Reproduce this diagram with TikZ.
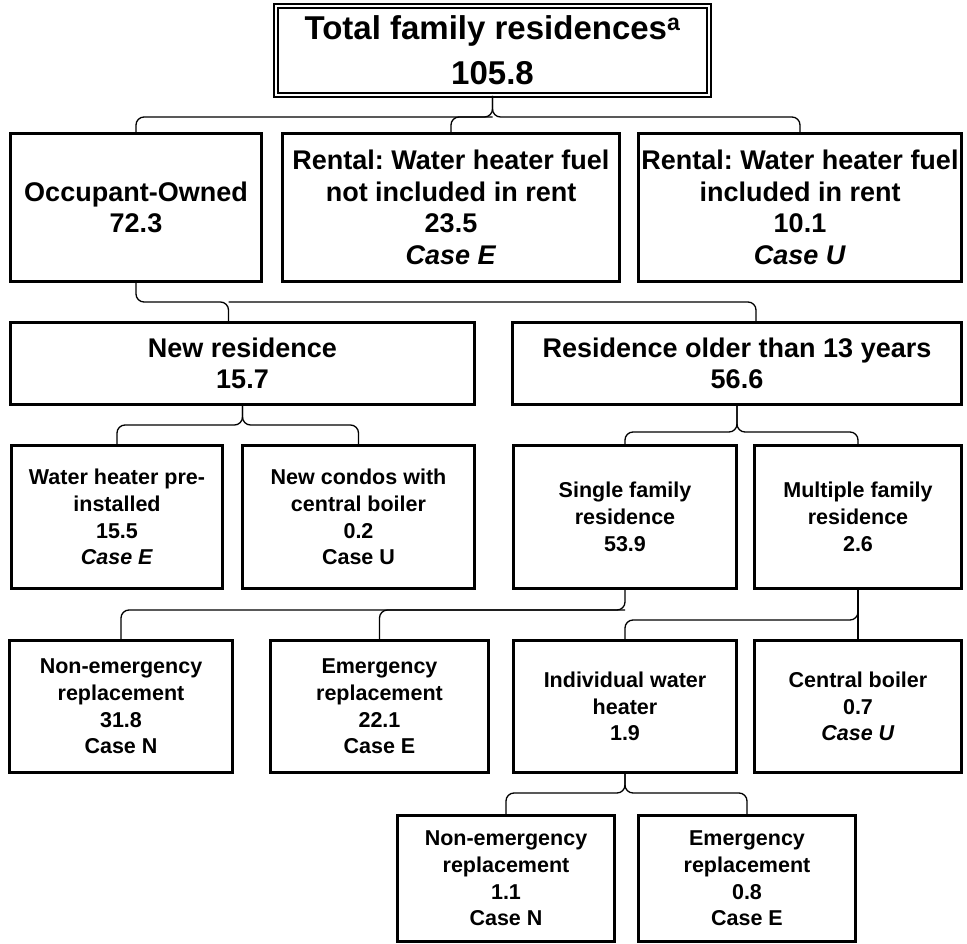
\documentclass[tikz,border=0pt]{standalone}
\usepackage{fontspec}
\setmainfont{Liberation Sans}
\usepackage{tikz}
\frenchspacing

\begin{document}
\begin{tikzpicture}[
        x=1pt,y=-1pt,
        box/.style={draw,line width=2.6pt,inner sep=0pt,align=center},
        total/.style={box,double,line width=1.8pt,double distance=2.4pt,
            font=\fontsize{33}{45}\selectfont\bfseries},
        big/.style={box,font=\fontsize{27}{31.5}\selectfont\bfseries},
        small/.style={box,font=\fontsize{21.5}{26.7}\selectfont\bfseries},
        link/.style={line width=1.3pt,rounded corners=8pt}
    ]
        \useasboundingbox (0,0) rectangle (967,944);

        % Top
        \node[total,minimum width=433,minimum height=89] (top) at (492.5,50.5)
            {Total family residences\textsuperscript{a}\\105.8};

        % First level
        \node[big,minimum width=251,minimum height=148] (own) at (136,207.5)
            {Occupant-Owned\\72.3};
        \node[big,minimum width=337,minimum height=148] (rentE) at (451,207.5)
            {Rental: Water heater fuel\\not included in rent\\23.5\\\textit{Case E}};
        \node[big,minimum width=323,minimum height=148] (rentU) at (800,207.5)
            {Rental: Water heater fuel\\included in rent\\10.1\\\textit{Case U}};

        % Age of residence
        \node[big,minimum width=464,minimum height=82] (newres) at (242.5,363.5)
            {New residence\\15.7};
        \node[big,minimum width=449,minimum height=82] (oldres) at (737,363.5)
            {Residence older than 13 years\\56.6};

        % Third level
        \node[small,minimum width=211,minimum height=143] (preinst) at (117,517)
            {Water heater pre-\\installed\\15.5\\\textit{Case E}};
        \node[small,minimum width=232,minimum height=143] (condo) at (358.5,517)
            {New condos with\\central boiler\\0.2\\Case U};
        \node[small,minimum width=223,minimum height=143] (single) at (625,517)
            {Single family\\residence\\53.9};
        \node[small,minimum width=207,minimum height=143] (multi) at (858,517)
            {Multiple family\\residence\\2.6};

        % Fourth level
        \node[small,minimum width=223,minimum height=132] (nonemA) at (121,706.5)
            {Non-emergency\\replacement\\31.8\\Case N};
        \node[small,minimum width=218,minimum height=132] (emA) at (379.5,706.5)
            {Emergency\\replacement\\22.1\\Case E};
        \node[small,minimum width=223,minimum height=132] (indiv) at (625,706.5)
            {Individual water\\heater\\1.9};
        \node[small,minimum width=207,minimum height=132] (central) at (858,706.5)
            {Central boiler\\0.7\\\textit{Case U}};

        % Fifth level
        \node[small,minimum width=217,minimum height=126] (nonemB) at (506,878.5)
            {Non-emergency\\replacement\\1.1\\Case N};
        \node[small,minimum width=217,minimum height=126] (emB) at (747,878.5)
            {Emergency\\replacement\\0.8\\Case E};

        % Brace levels
        \coordinate (b1) at (0,117);
        \coordinate (b2) at (0,302);
        \coordinate (b3) at (0,425);
        \coordinate (b4) at (0,432);
        \coordinate (b5) at (0,610);
        \coordinate (b6) at (0,620);
        \coordinate (b7) at (0,793);

        % Braces
        \draw[link] (own.north) |- (top.south |- b1) -- (top.south);
        \draw[link] (top.south) -- (top.south |- b1) -| (rentU.north);
        \draw[link] (rentE.north) |- (top.south |- b1);

        \draw[link] (own.south) |- ([xshift=-14]newres.north |- b2) -- ([xshift=-14]newres.north);
        \draw[link] ([xshift=-14]newres.north |- b2) -| ([xshift=19]oldres.north);

        \draw[link] (preinst.north) |- (newres.south |- b3) -- (newres.south);
        \draw[link] (newres.south) -- (newres.south |- b3) -| (condo.north);

        \draw[link] (single.north) |- (oldres.south |- b4) -- (oldres.south);
        \draw[link] (oldres.south) -- (oldres.south |- b4) -| (multi.north);

        \draw[link] (single.south) |- (nonemA.north |- b5) -- (nonemA.north);
        \draw[link] (emA.north) |- (single.south |- b5);

        \draw[link] (multi.south) |- (indiv.north |- b6) -- (indiv.north);
        \draw[link] (multi.south) -- (central.north);

        \draw[link] (nonemB.north) |- (indiv.south |- b7) -- (indiv.south);
        \draw[link] (indiv.south) -- (indiv.south |- b7) -| (emB.north);
    \end{tikzpicture}
\end{document}
